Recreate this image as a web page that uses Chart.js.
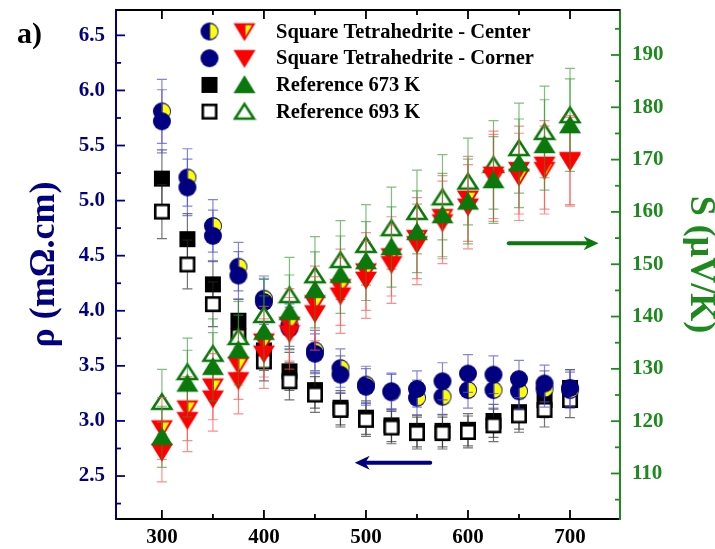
<!DOCTYPE html>
<html>
<head>
<meta charset="utf-8">
<script src="https://cdn.jsdelivr.net/npm/chart.js@4/dist/chart.umd.min.js"></script>
<style>
  html, body { margin: 0; padding: 0; background: #ffffff; }
  canvas { display: block; }
</style>
</head>
<body>
<canvas id="chart" width="715" height="549"></canvas>
<script>
// Measurement temperatures, K
const temperatures = [300, 325, 350, 375, 400, 425, 450, 475, 500, 525, 550, 575, 600, 625, 650, 675, 700];

// Electrical resistivity, mΩ·cm
const rhoCenter = [5.81, 5.21, 4.77, 4.40, 4.11, 3.87, 3.64, 3.48, 3.33, 3.26, 3.21, 3.22, 3.28, 3.28, 3.27, 3.29, 3.28];
const rhoCorner = [5.72, 5.12, 4.68, 4.32, 4.08, 3.84, 3.61, 3.42, 3.31, 3.27, 3.29, 3.36, 3.43, 3.42, 3.38, 3.34, 3.30];
const rhoRef673 = [5.20, 4.65, 4.24, 3.91, 3.64, 3.45, 3.28, 3.12, 3.03, 2.96, 2.91, 2.91, 2.92, 3.00, 3.08, 3.19, 3.30];
const rhoRef693 = [4.90, 4.42, 4.06, 3.77, 3.54, 3.36, 3.24, 3.10, 3.01, 2.94, 2.89, 2.89, 2.90, 2.96, 3.05, 3.10, 3.19];

// Seebeck coefficient, μV/K
const seebeckCenter = [118.6, 122.4, 126.6, 130.7, 135.2, 138.4, 142.5, 145.6, 148.6, 151.5, 155.0, 159.0, 162.5, 166.5, 166.7, 168.0, 169.6];
const seebeckCorner = [114.1, 120.2, 124.3, 127.8, 132.9, 136.8, 140.6, 144.0, 147.0, 150.0, 153.8, 158.0, 161.0, 167.1, 168.0, 169.0, 169.9];
const seebeckRef673 = [117.0, 127.2, 130.4, 133.6, 137.1, 140.9, 145.1, 148.0, 150.6, 153.3, 156.2, 159.4, 162.0, 166.1, 169.3, 172.8, 176.6];
const seebeckRef693 = [123.7, 129.4, 132.9, 136.1, 140.3, 144.1, 147.9, 150.8, 153.7, 156.9, 160.0, 162.8, 165.8, 169.0, 172.2, 175.3, 178.5];

// Relative measurement uncertainty shown as error bars
const RHO_REL_ERROR = 0.05;
const SEEBECK_REL_ERROR = 0.05;

// Axis ticks
const xTicks = [300, 400, 500, 600, 700];
const xMinorTicks = [350, 450, 550, 650];
const rhoTicks = [2.5, 3.0, 3.5, 4.0, 4.5, 5.0, 5.5, 6.0, 6.5];
const rhoMinorTicks = [2.25, 2.75, 3.25, 3.75, 4.25, 4.75, 5.25, 5.75, 6.25];
const seebeckTicks = [110, 120, 130, 140, 150, 160, 170, 180, 190];
const seebeckMinorTicks = [105, 115, 125, 135, 145, 155, 165, 175, 185, 195];

// Guide arrows pointing to the axis each group belongs to
const seebeckArrow = { fromT: 640, toT: 728, value: 154.0 };
const rhoArrow = { fromT: 563, toT: 489, value: 2.62 };

const NAVY = '#000080';
const YELLOW = '#FFFF00';
const RED = '#FF0000';
const GREEN = '#0A780A';
const AXIS_GREEN = '#1E8A1E';
const SERIF = '"Liberation Serif", "Times New Roman", serif';

// ---- marker symbols ----
function marker(draw) {
  const c = document.createElement('canvas');
  c.width = 24; c.height = 24;
  draw(c.getContext('2d'), 12, 12);
  return c;
}
const circleHalf = marker((g, cx, cy) => {
  const r = 9;
  g.fillStyle = NAVY;
  g.beginPath(); g.arc(cx, cy, r, 0, Math.PI * 2); g.fill();
  g.fillStyle = YELLOW;
  g.beginPath(); g.moveTo(cx + 0.6, cy - r + 1.3);
  g.arc(cx + 0.6, cy, r - 1.4, -Math.PI / 2, Math.PI / 2); g.closePath(); g.fill();
});
const circleFull = marker((g, cx, cy) => {
  g.fillStyle = NAVY;
  g.beginPath(); g.arc(cx, cy, 9, 0, Math.PI * 2); g.fill();
});
const squareFull = marker((g, cx, cy) => {
  g.fillStyle = '#000';
  g.fillRect(cx - 8, cy - 8, 16, 16);
});
const squareOpen = marker((g, cx, cy) => {
  g.fillStyle = '#fff';
  g.fillRect(cx - 8, cy - 8, 16, 16);
  g.strokeStyle = '#000'; g.lineWidth = 2.6;
  g.strokeRect(cx - 6.7, cy - 6.7, 13.4, 13.4);
});
const triDownHalf = marker((g, cx, cy) => {
  const w = 11, top = cy - 8.3, bot = cy + 9.8;
  g.fillStyle = RED;
  g.beginPath(); g.moveTo(cx - w, top); g.lineTo(cx + w, top); g.lineTo(cx, bot); g.closePath(); g.fill();
  g.fillStyle = YELLOW;
  g.beginPath(); g.moveTo(cx + 1, top + 2); g.lineTo(cx + w - 3.6, top + 2); g.lineTo(cx + 1, bot - 5); g.closePath(); g.fill();
});
const triDownFull = marker((g, cx, cy) => {
  const w = 11, top = cy - 8.3, bot = cy + 9.8;
  g.fillStyle = RED;
  g.beginPath(); g.moveTo(cx - w, top); g.lineTo(cx + w, top); g.lineTo(cx, bot); g.closePath(); g.fill();
});
const triUpFull = marker((g, cx, cy) => {
  const w = 11, top = cy - 9.8, bot = cy + 8.3;
  g.fillStyle = GREEN;
  g.beginPath(); g.moveTo(cx, top); g.lineTo(cx + w, bot); g.lineTo(cx - w, bot); g.closePath(); g.fill();
});
const triUpOpen = marker((g, cx, cy) => {
  const w = 9.4, top = cy - 7.6, bot = cy + 7;
  g.fillStyle = '#fff'; g.strokeStyle = GREEN; g.lineWidth = 2.6; g.lineJoin = 'miter';
  g.beginPath(); g.moveTo(cx, top); g.lineTo(cx + w, bot); g.lineTo(cx - w, bot); g.closePath();
  g.fill(); g.stroke();
});

// ---- datasets ----
function series(label, values, axis, symbol, order, errorColor, relError) {
  return {
    label,
    data: temperatures.map((t, i) => ({ x: t, y: values[i] })),
    yAxisID: axis,
    pointStyle: symbol,
    pointRadius: 9,
    pointHoverRadius: 9,
    showLine: false,
    order,
    errorColor,
    relError
  };
}

const datasets = [
  series('ρ Reference 673 K', rhoRef673, 'rho', squareFull, 8, 'rgba(40,40,40,0.65)', RHO_REL_ERROR),
  series('ρ Reference 693 K', rhoRef693, 'rho', squareOpen, 7, 'rgba(40,40,40,0.65)', RHO_REL_ERROR),
  series('ρ Square Tetrahedrite - Center', rhoCenter, 'rho', circleHalf, 6, 'rgba(80,80,210,0.7)', RHO_REL_ERROR),
  series('ρ Square Tetrahedrite - Corner', rhoCorner, 'rho', circleFull, 5, 'rgba(80,80,210,0.7)', RHO_REL_ERROR),
  series('S Reference 693 K', seebeckRef693, 'seebeck', triUpOpen, 4, 'rgba(40,150,40,0.6)', SEEBECK_REL_ERROR),
  series('S Square Tetrahedrite - Center', seebeckCenter, 'seebeck', triDownHalf, 3, 'rgba(255,80,80,0.65)', SEEBECK_REL_ERROR),
  series('S Square Tetrahedrite - Corner', seebeckCorner, 'seebeck', triDownFull, 2, 'rgba(255,80,80,0.65)', SEEBECK_REL_ERROR),
  series('S Reference 673 K', seebeckRef673, 'seebeck', triUpFull, 1, 'rgba(40,150,40,0.6)', SEEBECK_REL_ERROR)
];

const legendRows = [
  { text: 'Square Tetrahedrite - Center', left: circleHalf, right: triDownHalf },
  { text: 'Square Tetrahedrite - Corner', left: circleFull, right: triDownFull },
  { text: 'Reference 673 K', left: squareFull, right: triUpFull },
  { text: 'Reference 693 K', left: squareOpen, right: triUpOpen }
];

// ---- drawing helpers ----
function drawArrow(ctx, x1, y, x2, color) {
  const dir = Math.sign(x2 - x1);
  const headLen = 15, headHalf = 7;
  ctx.save();
  ctx.strokeStyle = color; ctx.fillStyle = color;
  ctx.lineWidth = 4; ctx.lineCap = 'round';
  ctx.beginPath(); ctx.moveTo(x1, y); ctx.lineTo(x2 - dir * headLen * 0.6, y); ctx.stroke();
  ctx.beginPath();
  ctx.moveTo(x2, y);
  ctx.lineTo(x2 - dir * headLen, y - headHalf);
  ctx.lineTo(x2 - dir * headLen * 0.7, y);
  ctx.lineTo(x2 - dir * headLen, y + headHalf);
  ctx.closePath(); ctx.fill();
  ctx.restore();
}

const decorations = {
  id: 'decorations',
  beforeDatasetDraw(chart, args) {
    const ds = chart.data.datasets[args.index];
    const ctx = chart.ctx;
    const xs = chart.scales.x;
    const ys = chart.scales[ds.yAxisID];
    ctx.save();
    ctx.strokeStyle = ds.errorColor;
    ctx.lineWidth = 1.2;
    ds.data.forEach(p => {
      const e = p.y * ds.relError;
      const px = xs.getPixelForValue(p.x);
      const yLo = ys.getPixelForValue(p.y - e);
      const yHi = ys.getPixelForValue(p.y + e);
      ctx.beginPath();
      ctx.moveTo(px, yLo); ctx.lineTo(px, yHi);
      ctx.moveTo(px - 5, yLo); ctx.lineTo(px + 5, yLo);
      ctx.moveTo(px - 5, yHi); ctx.lineTo(px + 5, yHi);
      ctx.stroke();
    });
    ctx.restore();
  },
  afterDatasetsDraw(chart) {
    const ctx = chart.ctx;
    const { left, right, top, bottom } = chart.chartArea;
    const xs = chart.scales.x, rs = chart.scales.rho, ss = chart.scales.seebeck;

    ctx.save();
    // top frame line
    ctx.strokeStyle = '#000'; ctx.lineWidth = 2;
    ctx.beginPath(); ctx.moveTo(left, top); ctx.lineTo(right, top); ctx.stroke();

    // inward ticks, bottom and top
    ctx.lineWidth = 1.8;
    const xTick = len => px => {
      ctx.beginPath();
      ctx.moveTo(px, bottom); ctx.lineTo(px, bottom - len);
      ctx.moveTo(px, top); ctx.lineTo(px, top + len);
      ctx.stroke();
    };
    xTicks.forEach(v => xTick(9)(xs.getPixelForValue(v)));
    xMinorTicks.forEach(v => xTick(5)(xs.getPixelForValue(v)));

    // left axis ticks
    ctx.strokeStyle = NAVY;
    const lTick = len => py => { ctx.beginPath(); ctx.moveTo(left, py); ctx.lineTo(left + len, py); ctx.stroke(); };
    rhoTicks.forEach(v => lTick(9)(rs.getPixelForValue(v)));
    rhoMinorTicks.forEach(v => lTick(5)(rs.getPixelForValue(v)));

    // right axis ticks
    ctx.strokeStyle = AXIS_GREEN;
    const rTick = len => py => { ctx.beginPath(); ctx.moveTo(right, py); ctx.lineTo(right - len, py); ctx.stroke(); };
    seebeckTicks.forEach(v => rTick(9)(ss.getPixelForValue(v)));
    seebeckMinorTicks.forEach(v => rTick(5)(ss.getPixelForValue(v)));

    // guide arrows
    drawArrow(ctx, xs.getPixelForValue(seebeckArrow.fromT), ss.getPixelForValue(seebeckArrow.value),
              xs.getPixelForValue(seebeckArrow.toT), GREEN);
    drawArrow(ctx, xs.getPixelForValue(rhoArrow.fromT), rs.getPixelForValue(rhoArrow.value),
              xs.getPixelForValue(rhoArrow.toT), NAVY);

    // legend
    ctx.font = 'bold 20.5px ' + SERIF;
    ctx.fillStyle = '#000';
    ctx.textBaseline = 'middle';
    ctx.textAlign = 'left';
    legendRows.forEach((row, i) => {
      const cy = 31.5 + i * 26.7;
      ctx.drawImage(row.left, 209.5 - 12, cy - 12);
      ctx.drawImage(row.right, 244.5 - 12, cy - 12);
      ctx.fillText(row.text, 276, cy + 1);
    });

    // panel label
    ctx.font = 'bold 30px ' + SERIF;
    ctx.textBaseline = 'alphabetic';
    ctx.fillText('a)', 17, 43);
    ctx.restore();
  }
};

const tickFont = { family: SERIF, size: 21, weight: 'bold' };
const noEdgePadding = s => { s.paddingTop = 0; s.paddingBottom = 0; s.paddingLeft = 0; s.paddingRight = 0; };

new Chart(document.getElementById('chart'), {
  type: 'scatter',
  data: { datasets },
  options: {
    responsive: false,
    animation: false,
    devicePixelRatio: 1,
    layout: { padding: { top: 10, left: 0, right: 0, bottom: 0 } },
    plugins: { legend: { display: false }, tooltip: { enabled: false } },
    scales: {
      x: {
        type: 'linear',
        position: 'bottom',
        min: 255,
        max: 749,
        afterBuildTicks: s => { s.ticks = xTicks.map(v => ({ value: v })); },
        afterFit: s => { s.height = 30; noEdgePadding(s); },
        ticks: { font: tickFont, color: '#000', padding: 6, maxRotation: 0 },
        grid: { display: false, drawTicks: false },
        border: { display: true, color: '#000', width: 2 }
      },
      rho: {
        type: 'linear',
        position: 'left',
        min: 2.11,
        max: 6.73,
        afterBuildTicks: s => { s.ticks = rhoTicks.map(v => ({ value: v })); },
        afterFit: s => { s.width = 116; noEdgePadding(s); },
        ticks: { font: tickFont, color: NAVY, padding: 11, callback: v => v.toFixed(1) },
        grid: { display: false, drawTicks: false },
        border: { display: true, color: NAVY, width: 2 },
        title: {
          display: true,
          text: 'ρ (mΩ.cm)',
          color: NAVY,
          font: { family: SERIF, size: 36, weight: 'bold', lineHeight: 1 },
          padding: { top: 27, bottom: 0 }
        }
      },
      seebeck: {
        type: 'linear',
        position: 'right',
        min: 101.3,
        max: 198.6,
        afterBuildTicks: s => { s.ticks = seebeckTicks.map(v => ({ value: v })); },
        afterFit: s => { s.width = 95; noEdgePadding(s); },
        ticks: { font: tickFont, color: AXIS_GREEN, padding: 12 },
        grid: { display: false, drawTicks: false },
        border: { display: true, color: AXIS_GREEN, width: 2 },
        title: {
          display: true,
          text: 'S (μV/K)',
          color: AXIS_GREEN,
          font: { family: SERIF, size: 36, weight: 'bold', lineHeight: 1 },
          padding: { top: -3, bottom: 0 }
        }
      }
    }
  },
  plugins: [decorations]
});
</script>
</body>
</html>
